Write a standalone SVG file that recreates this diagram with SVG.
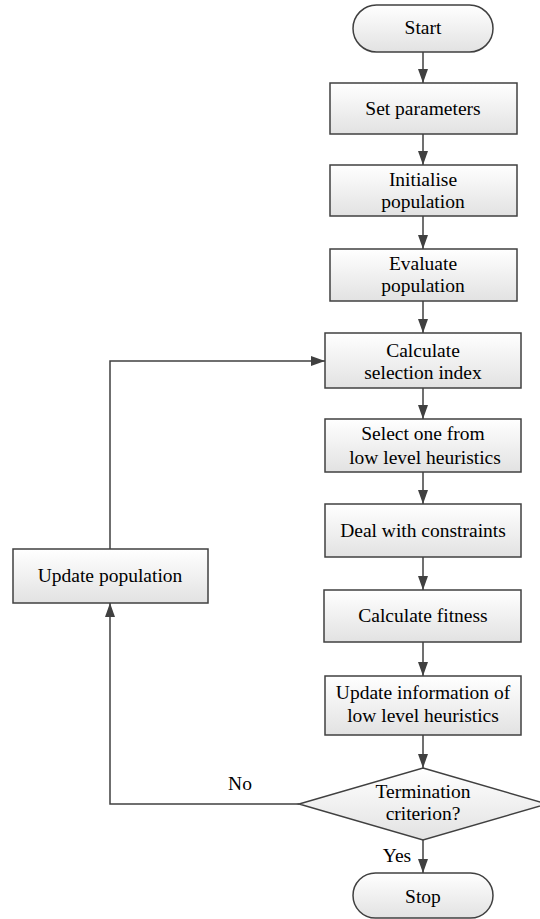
<svg xmlns="http://www.w3.org/2000/svg" width="540" height="919" viewBox="0 0 540 919">
<defs>
<linearGradient id="g" x1="0" y1="0" x2="0" y2="1">
<stop offset="0" stop-color="#ffffff"/>
<stop offset="1" stop-color="#e2e2e2"/>
</linearGradient>
<marker id="ah" markerWidth="14" markerHeight="10" refX="14" refY="5" orient="auto" markerUnits="userSpaceOnUse" viewBox="0 0 14 10">
<path d="M0,0 L14,5 L0,10 Z" fill="#404040"/>
</marker>
</defs>
<style>
.n{fill:url(#g);stroke:#404040;stroke-width:1.5}
.c{fill:none;stroke:#404040;stroke-width:1.5}
</style>
<rect width="540" height="919" fill="#fff"/>
<g id="connectors">
<line class="c" x1="423" y1="52" x2="423" y2="83" marker-end="url(#ah)"/>
<line class="c" x1="423" y1="134" x2="423" y2="165" marker-end="url(#ah)"/>
<line class="c" x1="423" y1="216" x2="423" y2="249" marker-end="url(#ah)"/>
<line class="c" x1="423" y1="301" x2="423" y2="333" marker-end="url(#ah)"/>
<line class="c" x1="423" y1="388" x2="423" y2="419" marker-end="url(#ah)"/>
<line class="c" x1="423" y1="472" x2="423" y2="504" marker-end="url(#ah)"/>
<line class="c" x1="423" y1="557" x2="423" y2="590" marker-end="url(#ah)"/>
<line class="c" x1="423" y1="642" x2="423" y2="676" marker-end="url(#ah)"/>
<line class="c" x1="423" y1="735" x2="423" y2="768" marker-end="url(#ah)"/>
<line class="c" x1="423" y1="840" x2="423" y2="873" marker-end="url(#ah)"/>
<polyline class="c" points="299,804 110,804 110,603" marker-end="url(#ah)"/>
<polyline class="c" points="110,549 110,361 325,361" marker-end="url(#ah)"/>
<text x="240" y="790" style="font-family:'Liberation Serif',serif;font-size:19.5px;text-anchor:middle;fill:#000">No</text>
<text x="397" y="862" style="font-family:'Liberation Serif',serif;font-size:19.5px;text-anchor:middle;fill:#000">Yes</text>
</g>
<g id="start">
<rect class="n" x="353" y="5" width="140" height="47" rx="23.5"/>
<text x="423" y="34" style="font-family:'Liberation Serif',serif;font-size:19.5px;text-anchor:middle;fill:#000">Start</text>
</g>
<g id="set-parameters">
<rect class="n" x="330" y="83" width="187" height="51"/>
<text x="423" y="115" style="font-family:'Liberation Serif',serif;font-size:19.5px;text-anchor:middle;fill:#000">Set parameters</text>
</g>
<g id="initialise">
<rect class="n" x="330" y="165" width="187" height="51"/>
<text x="423" y="186" style="font-family:'Liberation Serif',serif;font-size:19.5px;text-anchor:middle;fill:#000">Initialise</text>
<text x="423" y="208" style="font-family:'Liberation Serif',serif;font-size:19.5px;text-anchor:middle;fill:#000">population</text>
</g>
<g id="evaluate">
<rect class="n" x="330" y="249" width="187" height="52"/>
<text x="423" y="270" style="font-family:'Liberation Serif',serif;font-size:19.5px;text-anchor:middle;fill:#000">Evaluate</text>
<text x="423" y="292" style="font-family:'Liberation Serif',serif;font-size:19.5px;text-anchor:middle;fill:#000">population</text>
</g>
<g id="calc-index">
<rect class="n" x="325" y="333" width="196" height="55"/>
<text x="423" y="357" style="font-family:'Liberation Serif',serif;font-size:19.5px;text-anchor:middle;fill:#000">Calculate</text>
<text x="423" y="379" style="font-family:'Liberation Serif',serif;font-size:19.5px;text-anchor:middle;fill:#000">selection index</text>
</g>
<g id="select-one">
<rect class="n" x="325" y="419" width="196" height="53"/>
<text x="423" y="440" style="font-family:'Liberation Serif',serif;font-size:19.5px;text-anchor:middle;fill:#000">Select one from</text>
<text x="425" y="464" style="font-family:'Liberation Serif',serif;font-size:19.5px;text-anchor:middle;fill:#000">low level heuristics</text>
</g>
<g id="constraints">
<rect class="n" x="325" y="504" width="196" height="53"/>
<text x="423" y="537" style="font-family:'Liberation Serif',serif;font-size:19.5px;text-anchor:middle;fill:#000">Deal with constraints</text>
</g>
<g id="fitness">
<rect class="n" x="324" y="590" width="197" height="52"/>
<text x="423" y="622" style="font-family:'Liberation Serif',serif;font-size:19.5px;text-anchor:middle;fill:#000">Calculate fitness</text>
</g>
<g id="update-info">
<rect class="n" x="325" y="676" width="196" height="59"/>
<text x="423" y="699" style="font-family:'Liberation Serif',serif;font-size:19.5px;text-anchor:middle;fill:#000">Update information of</text>
<text x="423" y="722" style="font-family:'Liberation Serif',serif;font-size:19.5px;text-anchor:middle;fill:#000">low level heuristics</text>
</g>
<g id="termination">
<polygon class="n" points="423,768 547,804 423,840 299,804"/>
<text x="423" y="798" style="font-family:'Liberation Serif',serif;font-size:19.5px;text-anchor:middle;fill:#000">Termination</text>
<text x="423" y="820" style="font-family:'Liberation Serif',serif;font-size:19.5px;text-anchor:middle;fill:#000">criterion?</text>
</g>
<g id="stop">
<rect class="n" x="353" y="873" width="140" height="45" rx="22.5"/>
<text x="423" y="903" style="font-family:'Liberation Serif',serif;font-size:19.5px;text-anchor:middle;fill:#000">Stop</text>
</g>
<g id="update-population">
<rect class="n" x="13" y="549" width="195" height="54"/>
<text x="110" y="582" style="font-family:'Liberation Serif',serif;font-size:19.5px;text-anchor:middle;fill:#000">Update population</text>
</g>
</svg>
